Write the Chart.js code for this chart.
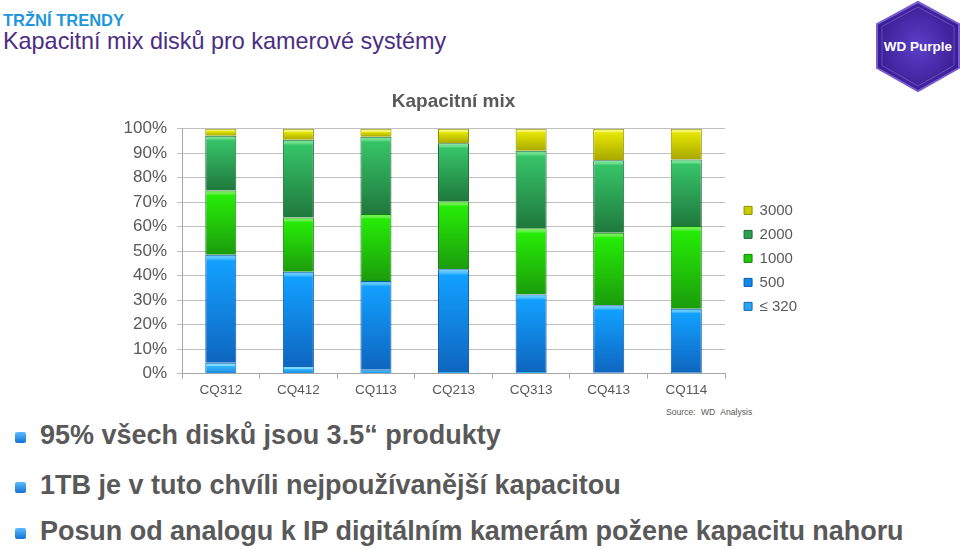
<!DOCTYPE html>
<html>
<head>
<meta charset="utf-8">
<script src="https://cdn.jsdelivr.net/npm/chart.js@4.4.1/dist/chart.umd.min.js"></script>
<style>
  html, body { margin: 0; padding: 0; background: #fff; }
  body { width: 960px; height: 549px; position: relative; overflow: hidden; font-family: "Liberation Sans", Arial, sans-serif; }
  .kicker { position: absolute; left: 3px; top: 12px; font-size: 16.5px; line-height: 1; font-weight: bold; color: #1e96dc; }
  .subtitle { position: absolute; left: 3px; top: 30px; font-size: 23.4px; line-height: 1; color: #4b2d83; }
  .chartBox { position: absolute; left: 0; top: 85px; width: 807px; height: 316px; }
  .source { position: absolute; left: 666px; top: 408px; font-size: 8.6px; line-height: 1; color: #595959; word-spacing: 3px; }
  .bullet { position: absolute; left: 40px; font-size: 27px; line-height: 1; font-weight: bold; color: #595959; white-space: nowrap; }
  .bullet::before { content: ""; position: absolute; left: -25px; top: 10px; width: 11px; height: 11px; border-radius: 2px;
    background: linear-gradient(#5cbcff, #1570d0); }
  .b1 { top: 422px; }
  .b2 { top: 472px; }
  .b3 { top: 518px; letter-spacing: -0.05px; }
  .logo { position: absolute; left: 872px; top: 0; }
</style>
</head>
<body>
<div class="kicker">TRŽNÍ TRENDY</div>
<div class="subtitle">Kapacitní mix disků pro kamerové systémy</div>

<svg class="logo" width="88" height="94" viewBox="0 0 88 94">
  <defs>
    <radialGradient id="hexFill" cx="50%" cy="50%" r="60%">
      <stop offset="0" stop-color="#5d3fc8"/>
      <stop offset="1" stop-color="#32188a"/>
    </radialGradient>
  </defs>
  <polygon points="46,2 87,24 87,68 46,91 5,68 5,24" fill="url(#hexFill)" stroke="#7a5cd0" stroke-width="2"/>
  <polygon points="46,7 82,26.5 82,65.5 46,86 10,65.5 10,26.5" fill="none" stroke="#9078e0" stroke-width="1" opacity="0.5"/>
  <text x="46" y="51" text-anchor="middle" font-family="Liberation Sans, Arial, sans-serif" font-weight="bold" font-size="13.5" fill="#fff">WD Purple</text>
</svg>

<div class="chartBox"><canvas id="mix"></canvas></div>

<div class="source">Source: WD Analysis</div>
<div class="bullet b1">95% všech disků jsou 3.5“ produkty</div>
<div class="bullet b2">1TB je v tuto chvíli nejpoužívanější kapacitou</div>
<div class="bullet b3">Posun od analogu k IP digitálním kamerám požene kapacitu nahoru</div>

<script>
// quarters
const quarters = ['CQ312', 'CQ412', 'CQ113', 'CQ213', 'CQ313', 'CQ413', 'CQ114'];

// share of units in % (bottom to top of each bar)
const cap320 = [4.5, 3.2, 1.7, 1.1, 1.1, 0.4, 0.7];
const cap500 = [44.1, 38.5, 36.2, 41.6, 31.3, 27.6, 25.9];
const cap1000 = [26.2, 22.1, 27.3, 27.7, 27.0, 29.6, 33.7];
const cap2000 = [22.4, 31.7, 31.6, 23.7, 31.6, 29.6, 27.2];
const cap3000 = [2.8, 4.5, 3.2, 5.9, 9.0, 12.8, 12.5];

const seriesNames = ['\u2264 320', '500', '1000', '2000', '3000'];
const seriesList = [cap320, cap500, cap1000, cap2000, cap3000];

const yTicks = [0, 10, 20, 30, 40, 50, 60, 70, 80, 90, 100];

const palette = [
    { hi: '#7fd8ff', top: '#35b8ff', bottom: '#1a86dc', mid: '#2aa6f0', line: '#1268b0' },
    { hi: '#5cc8ff', top: '#12a0ff', bottom: '#0e66bf', mid: '#1188e8', line: '#0b5aa8' },
    { hi: '#6cf050', top: '#26ec06', bottom: '#1b9c0c', mid: '#22c808', line: '#168010' },
    { hi: '#70e090', top: '#36c468', bottom: '#1f783c', mid: '#2ca050', line: '#1b6634' },
    { hi: '#f4f470', top: '#e6e600', bottom: '#a8a800', mid: '#cccc00', line: '#8c8c00' }
];

function segFill(idx) {
    return function (ctx) {
        const c = palette[idx];
        const chart = ctx.chart;
        const y = chart.scales && chart.scales.y;
        if (ctx.type !== 'data' || !y) return c.mid;
        let base = 0;
        for (let d = 0; d < idx; d++) base += seriesList[d][ctx.dataIndex];
        const top = base + seriesList[idx][ctx.dataIndex];
        const y0 = y.getPixelForValue(top);
        const y1 = y.getPixelForValue(base);
        if (!isFinite(y0) || !isFinite(y1)) return c.mid;
        const h = Math.max(y1 - y0, 1);
        const g = chart.ctx.createLinearGradient(0, y0, 0, y1);
        const band = Math.min(3 / h, 0.35);
        g.addColorStop(0, c.hi);
        g.addColorStop(band, c.hi);
        g.addColorStop(Math.min(band + 0.03, 1), c.top);
        g.addColorStop(1, c.bottom);
        return g;
    };
}

const datasets = seriesList.map(function (vals, i) {
    return {
        label: seriesNames[i],
        data: vals,
        backgroundColor: segFill(i),
        borderColor: palette[i].line,
        borderWidth: 1,
        categoryPercentage: 0.4,
        barPercentage: 1
    };
});

const mixChart = new Chart(document.getElementById('mix').getContext('2d'), {
    type: 'bar',
    data: { labels: quarters, datasets: datasets },
    options: {
        responsive: true,
        maintainAspectRatio: false,
        animation: false,
        layout: { padding: 0 },
        plugins: {
            title: {
                display: true,
                fullSize: false,
                text: 'Kapacitní mix',
                color: '#595959',
                font: { family: 'Liberation Sans', size: 19, weight: 'bold' },
                padding: { top: 5, bottom: 16 }
            },
            legend: {
                position: 'right',
                reverse: true,
                title: { display: true, text: ' ', font: { size: 14 }, padding: 7 },
                labels: {
                    boxWidth: 8,
                    boxHeight: 8,
                    padding: 9,
                    color: '#595959',
                    font: { family: 'Liberation Sans', size: 15 },
                    generateLabels: function (chart) {
                        return chart.data.datasets.map(function (ds, i) {
                            return {
                                text: ds.label,
                                fillStyle: palette[i].mid,
                                strokeStyle: palette[i].line,
                                lineWidth: 1,
                                fontColor: '#595959',
                                datasetIndex: i
                            };
                        });
                    }
                }
            },
            tooltip: { enabled: false }
        },
        scales: {
            x: {
                stacked: true,
                grid: { drawOnChartArea: false, offset: true, tickLength: 5, color: '#a6a6a6' },
                border: { color: '#a6a6a6' },
                ticks: { color: '#595959', font: { family: 'Liberation Sans', size: 13.5 }, padding: 3 }
            },
            y: {
                stacked: true,
                min: 0,
                max: 100,
                afterFit: function (scale) { scale.width = 182; },
                afterBuildTicks: function (scale) { scale.ticks = yTicks.map(function (v) { return { value: v }; }); },
                grid: { color: '#bfbfbf', tickLength: 5 },
                border: { color: '#a6a6a6' },
                ticks: {
                    color: '#595959',
                    font: { family: 'Liberation Sans', size: 17 },
                    padding: 10,
                    callback: function (v) { return v + '%'; }
                }
            },
            // empty spacer between plot and legend
            gap: {
                type: 'linear',
                position: 'right',
                min: 0,
                max: 1,
                afterFit: function (scale) { scale.width = 10; },
                grid: { display: false },
                border: { display: false },
                ticks: { display: false }
            }
        }
    }
});
</script>
</body>
</html>
